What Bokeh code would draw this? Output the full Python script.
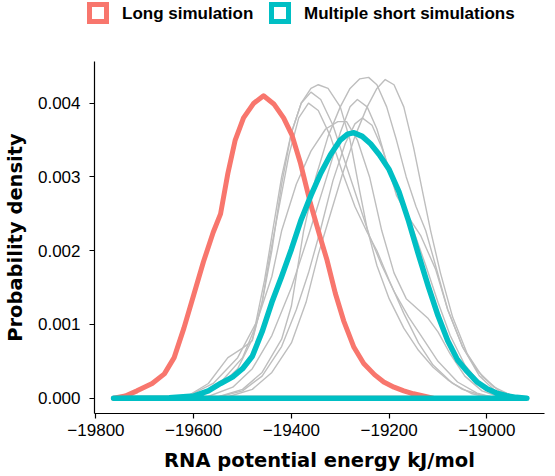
from bokeh.plotting import figure
from bokeh.models import Range1d, FixedTicker, Div
from bokeh.layouts import column
from bokeh.embed import file_html
from bokeh.resources import INLINE

# ---------------- data (density values in units of 1e-3) ----------------
x_ticks = [-19800, -19600, -19400, -19200, -19000]
x_tick_labels = ["\u221219800", "\u221219600", "\u221219400", "\u221219200", "\u221219000"]
y_ticks = [0.0, 0.001, 0.002, 0.003, 0.004]
y_tick_labels = ["0.000", "0.001", "0.002", "0.003", "0.004"]

series_names = ["Long simulation", "Multiple short simulations"]

long_x = [-19764, -19740, -19716, -19685, -19660, -19640, -19620, -19600, -19580, -19560,
          -19545, -19530, -19515, -19498, -19477, -19457, -19436, -19416, -19399, -19382,
          -19361, -19341, -19327, -19310, -19293, -19272, -19252, -19230, -19211, -19190,
          -19170, -19150, -19130, -19110]
long_e3 = [0, 0.03, 0.1, 0.2, 0.33, 0.55, 0.95, 1.4, 1.85, 2.25,
           2.5, 3.05, 3.5, 3.8, 4.0, 4.1, 3.99, 3.8, 3.57, 3.2,
           2.64, 2.18, 1.87, 1.42, 1.05, 0.69, 0.47, 0.32, 0.22, 0.15,
           0.1, 0.06, 0.03, 0]

short_x = [-19764, -19650, -19600, -19570, -19545, -19520, -19500, -19480, -19460, -19440,
           -19420, -19400, -19380, -19360, -19340, -19320, -19300, -19285, -19272, -19255,
           -19238, -19220, -19200, -19180, -19160, -19140, -19120, -19100, -19080, -19060,
           -19040, -19020, -19000, -18980, -18960, -18940, -18918]
short_e3 = [0, 0.005, 0.03, 0.1, 0.2, 0.29, 0.4, 0.57, 0.9, 1.3,
            1.65, 2.02, 2.42, 2.75, 3.05, 3.3, 3.5, 3.58, 3.6, 3.55,
            3.45, 3.3, 3.1, 2.8, 2.4, 1.95, 1.52, 1.12, 0.78, 0.52,
            0.36, 0.22, 0.13, 0.07, 0.035, 0.012, 0]

run_a_x = [-19640, -19580, -19540, -19500, -19475, -19455, -19440, -19420, -19400, -19380, -19360,
           -19345, -19325, -19300, -19280, -19260, -19245, -19225, -19200, -19170, -19140, -19110,
           -19080, -19050, -19010, -18970]
run_a_e3 = [0, 0.08, 0.25, 0.55, 0.95, 1.6, 2.2, 3.0, 3.6, 4.0, 4.2,
            4.25, 4.2, 3.95, 3.5, 2.8, 2.3, 1.8, 1.35, 0.95, 0.65, 0.42,
            0.25, 0.12, 0.04, 0]

run_b_x = [-19620, -19570, -19530, -19500, -19480, -19460, -19440, -19420, -19400, -19380, -19360,
           -19340, -19315, -19290, -19265, -19240, -19215, -19190, -19160, -19130, -19100, -19060,
           -19020, -18980]
run_b_e3 = [0, 0.2, 0.55, 0.68, 0.78, 1.3, 2.0, 2.9, 3.6, 4.0, 4.15,
            4.05, 3.7, 3.2, 2.7, 2.2, 1.8, 1.45, 1.1, 0.8, 0.5, 0.22,
            0.07, 0]

run_c_x = [-19600, -19550, -19510, -19480, -19460, -19445, -19425, -19405, -19385, -19365, -19345,
           -19320, -19295, -19270, -19245, -19225, -19200, -19170, -19140, -19110, -19070, -19030,
           -18990]
run_c_e3 = [0, 0.15, 0.4, 0.8, 1.3, 1.9, 2.6, 3.3, 3.8, 4.0, 3.9,
            3.55, 3.05, 2.6, 2.25, 2.0, 1.6, 1.15, 0.75, 0.45, 0.2, 0.06,
            0]

run_d_x = [-19560, -19500, -19460, -19420, -19400, -19375, -19350, -19325, -19300, -19280, -19260,
           -19242, -19225, -19205, -19185, -19165, -19145, -19125, -19105, -19080, -19050, -19020,
           -18985, -18950, -18920]
run_d_e3 = [0, 0.12, 0.35, 0.8, 1.25, 2.27, 3.0, 3.55, 3.95, 4.2, 4.33,
            4.35, 4.25, 3.95, 3.5, 3.0, 2.6, 2.27, 1.8, 1.2, 0.7, 0.38,
            0.15, 0.04, 0]

run_e_x = [-19540, -19480, -19440, -19400, -19370, -19345, -19320, -19295, -19270, -19245, -19225,
           -19208, -19190, -19170, -19150, -19130, -19115, -19095, -19070, -19040, -19010, -18975,
           -18940, -18918]
run_e_e3 = [0, 0.12, 0.35, 0.75, 1.3, 1.95, 2.5, 3.05, 3.55, 3.95, 4.2,
            4.32, 4.25, 3.95, 3.4, 2.75, 2.27, 1.7, 1.1, 0.6, 0.3, 0.1,
            0.02, 0]

run_f_x = [-19580, -19520, -19480, -19440, -19400, -19362, -19330, -19300, -19280, -19265, -19245,
           -19225, -19205, -19185, -19160, -19135, -19105, -19080, -19050, -19015, -18980, -18940]
run_f_e3 = [0, 0.15, 0.4, 0.85, 1.5, 2.27, 2.95, 3.6, 3.95, 4.05, 3.95,
            3.65, 3.2, 2.75, 2.45, 2.2, 1.75, 1.2, 0.7, 0.3, 0.08, 0]

run_g_x = [-19620, -19560, -19510, -19470, -19440, -19420, -19390, -19360, -19330, -19305, -19287,
           -19265, -19240, -19215, -19190, -19165, -19140, -19120, -19100, -19075, -19045, -19010,
           -18975, -18940]
run_g_e3 = [0, 0.2, 0.55, 1.05, 1.65, 2.27, 2.9, 3.35, 3.65, 3.75, 3.75,
            3.5, 3.0, 2.27, 1.7, 1.35, 1.2, 1.08, 0.9, 0.6, 0.3, 0.1,
            0.02, 0]

run_h_x = [-19560, -19500, -19460, -19420, -19390, -19365, -19341, -19315, -19290, -19270, -19255,
           -19235, -19215, -19195, -19175, -19150, -19125, -19100, -19075, -19045, -19010, -18975,
           -18935]
run_h_e3 = [0, 0.1, 0.3, 0.7, 1.2, 1.7, 2.27, 2.95, 3.45, 3.72, 3.8,
            3.7, 3.4, 3.0, 2.65, 2.27, 1.8, 1.3, 0.85, 0.45, 0.17, 0.04,
            0]

short_runs = [(run_a_x, run_a_e3), (run_b_x, run_b_e3), (run_c_x, run_c_e3), (run_d_x, run_d_e3),
              (run_e_x, run_e_e3), (run_f_x, run_f_e3), (run_g_x, run_g_e3), (run_h_x, run_h_e3)]

RED = "#F8766D"
TEAL = "#00BFC4"
GREY = "#BEBEBE"
series_colors = [RED, TEAL]


def closed(xs, ys_e3):
    # density outline closed along the baseline (as ggplot's geom_density draws it)
    xx = list(xs) + [xs[0]]
    yy = [v * 1e-3 for v in ys_e3] + [0.0]
    return xx, yy


# ---------------- legend strip (HTML, above the plot) ----------------
W = 539
LEG_H = 27
KEY_LEFT = [87, 269]      # legend layout in pixels
KEY_INNER = 12
KEY_BORDER = 5.5
KEY_TOP = 2
LABEL_GAP = 12

parts = []
for name, color, kx in zip(series_names, series_colors, KEY_LEFT):
    parts.append(
        f'<div style="position:absolute;left:{kx}px;top:{KEY_TOP}px;width:{KEY_INNER}px;'
        f'height:{KEY_INNER}px;border:{KEY_BORDER}px solid {color};box-sizing:content-box;"></div>'
    )
    lx0 = kx + KEY_INNER + 2 * KEY_BORDER + LABEL_GAP
    parts.append(
        f'<div style="position:absolute;left:{lx0}px;top:4.6px;line-height:17px;'
        f'white-space:nowrap;">{name}</div>'
    )
legend_html = (
    f'<div style="position:relative;width:{W}px;height:{LEG_H}px;'
    "font-family:'Liberation Sans';font-weight:bold;font-size:17px;color:#000;\">"
    + "".join(parts) + "</div>"
)
leg = Div(text=legend_html, width=W, height=LEG_H, margin=(0, 0, 0, 0))

# ---------------- main plot ----------------
FRAME_H = 352
p = figure(frame_width=450, frame_height=FRAME_H, output_backend="svg", toolbar_location=None,
           x_range=Range1d(-19803, -18882), y_range=Range1d(-0.000207, 0.004565),
           min_border_left=84, min_border_right=5, min_border_top=61 - LEG_H,
           min_border_bottom=63)

p.grid.visible = False
p.outline_line_color = None
p.background_fill_color = "white"
p.border_fill_color = "white"

for rx, ry in short_runs:
    xx, yy = closed(rx, ry)
    p.line(xx, yy, line_color=GREY, line_width=1.4, line_join="round")

lx, ly = closed(long_x, long_e3)
p.line(lx, ly, line_color=RED, line_width=5, line_join="round", line_cap="round")
sx, sy = closed(short_x, short_e3)
p.line(sx, sy, line_color=TEAL, line_width=5.5, line_join="round", line_cap="round")

p.xaxis.ticker = FixedTicker(ticks=x_ticks)
p.xaxis.major_label_overrides = dict(zip(x_ticks, x_tick_labels))
p.yaxis.ticker = FixedTicker(ticks=y_ticks)
p.yaxis.major_label_overrides = dict(zip(y_ticks, y_tick_labels))

for ax in (p.xaxis[0], p.yaxis[0]):
    ax.axis_line_color = "black"
    ax.axis_line_width = 1.2
    ax.major_tick_line_color = "black"
    ax.major_tick_line_width = 1.2
    ax.major_tick_out = 5
    ax.major_tick_in = 0
    ax.minor_tick_line_color = None
    ax.major_label_text_font = "Liberation Sans"
    ax.major_label_text_font_size = "17px"
    ax.major_label_text_color = "black"
    ax.axis_label_text_font = "DejaVu Sans"
    ax.axis_label_text_font_style = "bold"
    ax.axis_label_text_font_size = "19.5px"
    ax.axis_label_text_color = "black"

p.xaxis.axis_label = "RNA potential energy kJ/mol"
p.yaxis.axis_label = "Probability density"
p.xaxis.major_label_standoff = 5
p.xaxis.axis_label_standoff = 10
p.yaxis.major_label_standoff = 9
p.yaxis.axis_label_standoff = 8

layout = column(leg, p, spacing=0)
open("out.html", "w").write(file_html(layout, INLINE))
